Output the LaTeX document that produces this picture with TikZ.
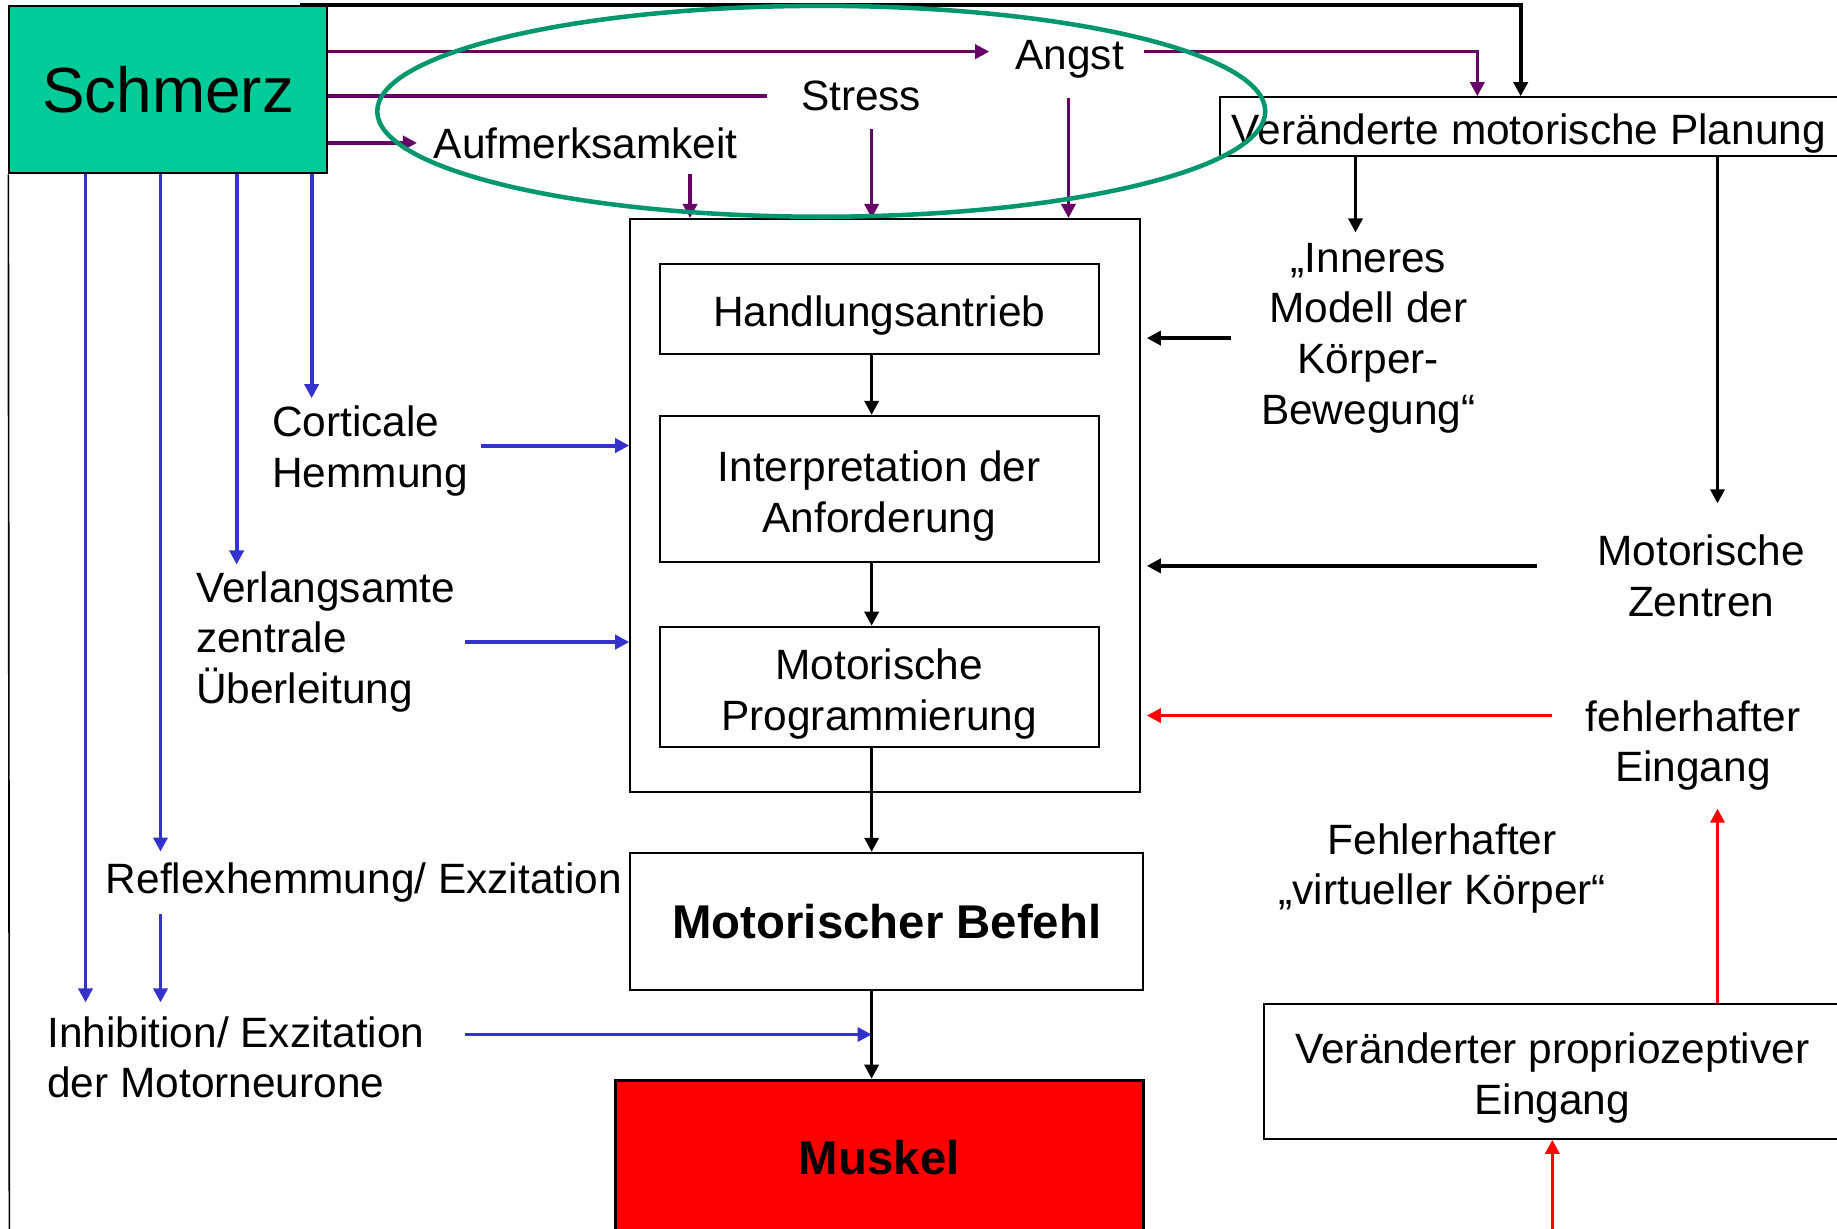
\documentclass[tikz,border=0pt]{standalone}
\usepackage{fontspec}
\setmainfont{Liberation Sans}
\usetikzlibrary{arrows.meta}
\definecolor{schmerzgreen}{RGB}{0,204,153}
\definecolor{ovalgreen}{RGB}{0,150,110}
\definecolor{linepurple}{RGB}{102,0,102}
\definecolor{lineblue}{RGB}{51,51,204}
\newcommand\diagtext{\fontsize{20.6pt}{24.7pt}\selectfont}
\newcommand\diagbold{\fontsize{23pt}{27pt}\selectfont\bfseries}
\newcommand\diagtitle{\fontsize{31pt}{36pt}\selectfont}
\newcommand\boxstrut{\rule{0pt}{21.5pt}}

\begin{document}
\begin{tikzpicture}
[x=0.2mm, y=-0.2mm,
  boxdecorate/.style={draw, line width=1pt, inner sep=0pt, align=center, font=\diagtext},%
  labeldecorate/.style={inner sep=0pt, align=center, font=\diagtext},%
  arrowdecorate/.style={-{Triangle[length=2.4mm,width=2.4mm]}},%
  purpledecorate/.style={draw=linepurple, line width=1.6pt},%
  bluedecorate/.style={draw=lineblue, line width=1.9pt},%
  blackdecorate/.style={draw=black, line width=1.6pt},%
  reddecorate/.style={draw=red, line width=1.6pt},%
  ovaldecorate/.style={draw=ovalgreen, line width=2.2pt}]
\useasboundingbox (0,0) rectangle (1568,1049);
\clip (0,0) rectangle (1568,1049);
%% boxes
\node (schmerz) at (143.5,76.5) [boxdecorate, fill=schmerzgreen, minimum width=54.2mm, minimum height=28.6mm, font=\diagtitle] {Schmerz};
\node (outer) at (755.5,431.5) [boxdecorate, minimum width=87mm, minimum height=97.8mm] {};
\node (handl) at (750.5,263.5) [boxdecorate, minimum width=75mm, minimum height=15.4mm] {\boxstrut Handlungsantrieb};
\node (interp) at (750.5,417.5) [boxdecorate, minimum width=75mm, minimum height=25mm] {\boxstrut Interpretation der\\Anforderung};
\node (prog) at (750.5,586.5) [boxdecorate, minimum width=75mm, minimum height=20.6mm] {\boxstrut Motorische\\Programmierung};
\node (befehl) at (757,786.5) [boxdecorate, minimum width=87.6mm, minimum height=23.4mm, font=\diagbold] {Motorischer Befehl};
\node (muskel) at (750.5,988) [boxdecorate, line width=1.4pt, fill=red, minimum width=90.2mm, minimum height=26.4mm, font=\diagbold] {Muskel};
\node (planung) at (1305,108) [boxdecorate, minimum width=105.6mm, minimum height=10mm] {\boxstrut Veränderte motorische Planung};
\node (propr) at (1325,914.5) [boxdecorate, minimum width=98.4mm, minimum height=23mm] {\boxstrut Veränderter propriozeptiver\\Eingang};
%% labels
\node (angst) at (913,50.6) [labeldecorate] {Angst};
\node (stress) at (735,82) [labeldecorate] {Stress};
\node (aufm) at (500,122) [labeldecorate] {Aufmerksamkeit};
\node (modell) at (1168,288.6) [labeldecorate] {„Inneres\\Modell der\\Körper-\\Bewegung“};
\node (zentren) at (1452,491.5) [labeldecorate] {Motorische\\Zentren};
\node (fehler) at (1445,636.3) [labeldecorate] {fehlerhafter\\Eingang};
\node (virtuell) at (1231,741.3) [labeldecorate] {Fehlerhafter\\„virtueller Körper“};
\node (cort) at (232,385.3) [labeldecorate, anchor=west, align=left] {Corticale\\Hemmung};
\node (verl) at (167,548) [labeldecorate, anchor=west, align=left] {Verlangsamte\\zentrale\\Überleitung};
\node (reflex) at (90,753.6) [labeldecorate, anchor=west] {Reflexhemmung/ Exzitation};
\node (inhib) at (40,902.5) [labeldecorate, anchor=west, align=left] {Inhibition/ Exzitation\\der Motorneurone};
%% free ends
\coordinate (axis) at (744,0);
\coordinate (leftfoot) at (8,1060);
\coordinate (proprfoot) at (1325,1060);
%% purple lines
\draw[purpledecorate, arrowdecorate] ([yshift=1.3mm]angst.west -| schmerz.east) -- ([xshift=-4.4mm, yshift=1.3mm]angst.west);
\draw[purpledecorate] (stress.west -| schmerz.east) -- ([xshift=-5.8mm]stress.west);
\draw[purpledecorate, arrowdecorate] (aufm.west -| schmerz.east) -- ([xshift=-2.8mm]aufm.west);
\draw[purpledecorate, arrowdecorate] ([xshift=3.4mm, yshift=1.3mm]angst.east) -| ([xshift=-8.8mm]planung.north);
\draw[purpledecorate, arrowdecorate] ([yshift=-2.6mm]aufm.south -| 589,0) -- (outer.north -| 589,0);
\draw[purpledecorate, arrowdecorate] ([yshift=-3mm]stress.south -| axis) -- (outer.north -| axis);
\draw[purpledecorate, arrowdecorate] ([yshift=-3.3mm]angst.south -| 912,0) -- (outer.north -| 912,0);
%% black lines
\draw[blackdecorate, line width=1.8pt, arrowdecorate] ([xshift=-4.8mm]schmerz.north east) -| ([xshift=-1.4mm]planung.north);
\draw[blackdecorate, line width=0.8pt] (schmerz.south west) -- (leftfoot);
\draw[blackdecorate, arrowdecorate] (planung.south -| 1157,0) -- ([yshift=1.7mm]modell.north -| 1157,0);
\draw[blackdecorate, arrowdecorate] (planung.south -| 1466,0) -- ([yshift=5.3mm]zentren.north -| 1466,0);
\draw[blackdecorate, arrowdecorate, shorten >=1mm] ([xshift=-5mm]modell.west) -- (modell.west -| outer.east);
\draw[blackdecorate, arrowdecorate, shorten >=1mm] ([xshift=-10.2mm, yshift=1.7mm]zentren.west) -- ([yshift=1.7mm]zentren.west -| outer.east);
\foreach \startnode/\endnode in {handl/interp, interp/prog, prog/befehl, befehl/muskel} {
  \draw[blackdecorate, arrowdecorate] (\startnode.south -| axis) -- (\endnode.north -| axis);
}
%% blue lines
\foreach \xpos/\endnode/\gap in {266/cort/1.3mm, 202/verl/1.1mm, 137/reflex/1.9mm, 73/inhib/2.3mm} {
  \draw[bluedecorate, arrowdecorate] (schmerz.south -| \xpos,0) -- ([yshift=\gap]\endnode.north -| \xpos,0);
}
\draw[bluedecorate, arrowdecorate] ([yshift=-1.9mm]reflex.south -| 137,0) -- ([yshift=2.3mm]inhib.north -| 137,0);
\draw[bluedecorate, arrowdecorate] ([xshift=2.2mm, yshift=1mm]cort.east) -- ([yshift=1mm]cort.east -| outer.west);
\draw[bluedecorate, arrowdecorate] ([xshift=1.6mm]verl.east) -- (verl.east -| outer.west);
\draw[bluedecorate, arrowdecorate] ([xshift=6.8mm, yshift=3.9mm]inhib.east) -- ([yshift=3.9mm]inhib.east -| axis);
%% red lines
\draw[reddecorate, arrowdecorate, shorten >=1mm] ([xshift=-5.6mm, yshift=5.1mm]fehler.west) -- ([yshift=5.1mm]fehler.west -| outer.east);
\draw[reddecorate, arrowdecorate] (propr.north -| 1466,0) -- ([yshift=-3mm]fehler.south -| 1466,0);
\draw[reddecorate, arrowdecorate] (proprfoot) -- (propr.south);
%% oval
\draw[ovaldecorate] (701,95) ellipse [x radius=379, y radius=90];
\end{tikzpicture}
\end{document}
